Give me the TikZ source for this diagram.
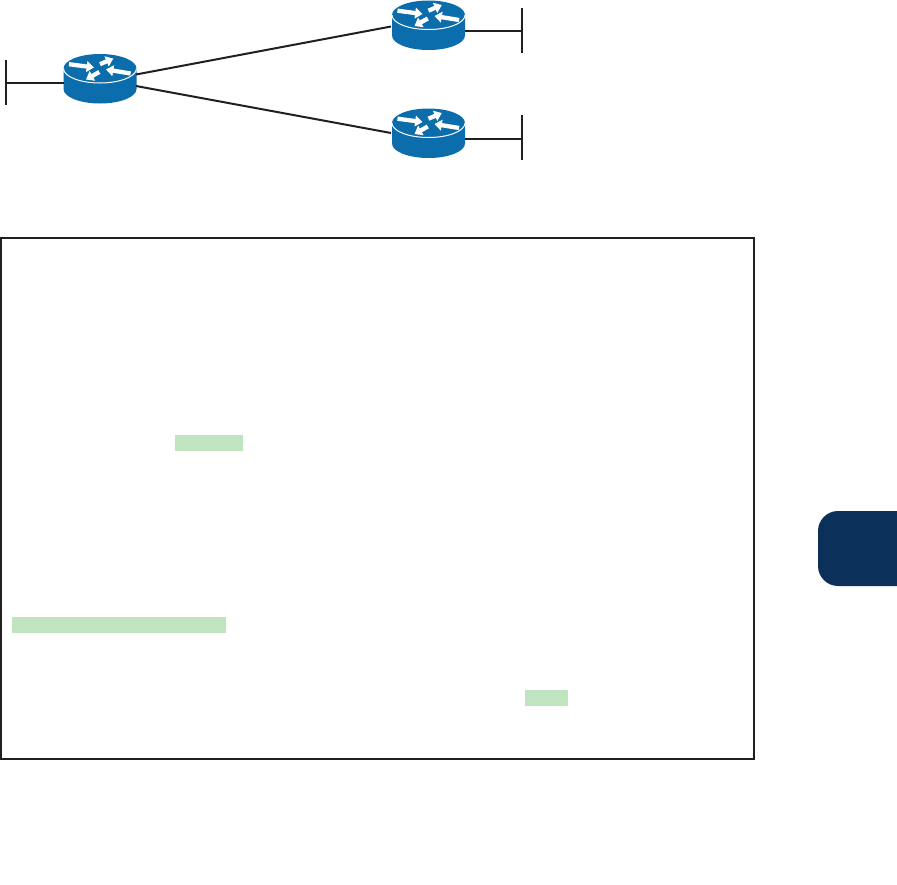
\documentclass[tikz,border=0pt]{standalone}
\usetikzlibrary{arrows.meta}
\definecolor{routerblue}{HTML}{0B6DAB}
\definecolor{inkline}{HTML}{231F20}
\definecolor{hilite}{HTML}{C1E4C0}
\definecolor{tabnavy}{HTML}{0B3059}
\tikzset{
  wire/.style={draw=inkline,line width=1.5pt},
  framebox/.style={draw=inkline,line width=1.5pt},
  marker/.style={fill=hilite,draw=none},
  turn/.style={-{Triangle[length=5.5pt,width=8pt]},draw=white,line width=3.2pt},
  busbar/.style={inner sep=0pt,minimum width=1.5pt,minimum height=33.75pt,fill=inkline},
  routerbody/.style={inner sep=0pt,minimum width=55pt,minimum height=37pt}
}
\newcommand{\drawrouter}[3]{%
  \begin{scope}[shift={(#2,#3)}]
    \fill[routerblue] (-36.5,0) -- (-36.5,20.5) .. controls (-36.5,28.5) and (-20.16,35) .. (0,35) .. controls (20.16,35) and (36.5,28.5) .. (36.5,20.5) -- (36.5,0) .. controls (36.5,-8) and (20.16,-14.5) .. (0,-14.5) .. controls (-20.16,-14.5) and (-36.5,-8) .. (-36.5,0) -- cycle;
    \draw[white,line width=0.75pt] (-36.5,0) .. controls (-36.5,8) and (-20.16,14.5) .. (0,14.5) .. controls (20.16,14.5) and (36.5,8) .. (36.5,0);
    \draw[turn] (-31,-4.3) -- (-6,-1);
    \draw[turn] (0,-4.3) -- (13.3,-10);
    \draw[turn] (30.6,5) -- (6,1);
    \draw[turn] (-0.7,3.5) -- (-14,11);
    \node[routerbody] (#1) at (0,10.2) {};
  \end{scope}}
\begin{document}
\begin{tikzpicture}[x=0.75pt,y=-0.75pt]
\useasboundingbox (0,0) rectangle (897,885);
\drawrouter{r1}{100}{68.5}
\drawrouter{r2}{428.5}{15}
\drawrouter{r3}{428.5}{123}
\node[busbar] (b1) at (6,82.5) {};
\node[busbar] (b2) at (522,30.5) {};
\node[busbar] (b3) at (522,137.5) {};
\coordinate (r1w) at (64,83);
\coordinate (b1e) at (6,83);
\coordinate (r2e) at (465,31);
\coordinate (b2w) at (522,31);
\coordinate (r3e) at (465,139);
\coordinate (b3w) at (522,139);
\coordinate (r1a) at (136,74.5);
\coordinate (r2a) at (391,26.5);
\coordinate (r1b) at (136,86);
\coordinate (r3a) at (391,133);
\draw[wire] (b1e) -- (r1w);
\draw[wire] (r2e) -- (b2w);
\draw[wire] (r3e) -- (b3w);
\draw[wire] (r1a) -- (r2a);
\draw[wire] (r1b) -- (r3a);
\node[framebox,inner sep=0pt,minimum width=753*0.75pt,minimum height=521*0.75pt,anchor=north west] (frame) at (0,237) {};
\fill[marker] (175,435) rectangle (243,451);
\fill[marker] (12,617) rectangle (226,633);
\fill[marker] (525,690) rectangle (568,706);
\fill[tabnavy] (897,511) -- (838,511) .. controls (827,511) and (818,520) .. (818,531) -- (818,566) .. controls (818,577) and (827,586) .. (838,586) -- (897,586) -- cycle;
\end{tikzpicture}
\end{document}
